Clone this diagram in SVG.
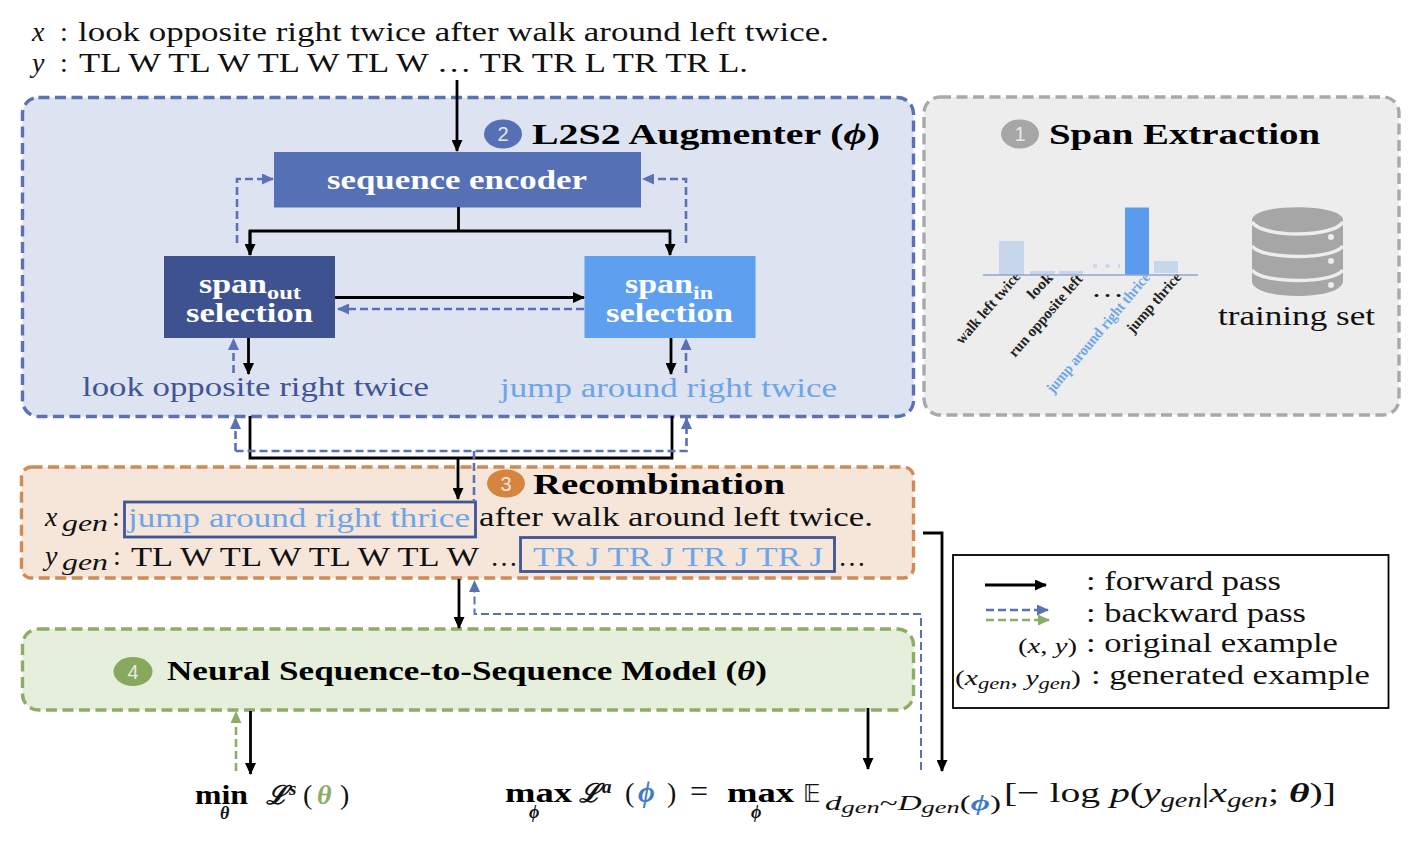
<svg xmlns="http://www.w3.org/2000/svg" width="1417" height="850" viewBox="0 0 1417 850">
<defs>
<marker id="ak" markerUnits="userSpaceOnUse" markerWidth="13" markerHeight="11" refX="11" refY="5.500" orient="auto"><path d="M0 0L12 5.500L0 11z" fill="#000"/></marker>
<marker id="ab" markerUnits="userSpaceOnUse" markerWidth="13" markerHeight="11" refX="11" refY="5.500" orient="auto"><path d="M0 0L12 5.500L0 11z" fill="#5a72b5"/></marker>
<marker id="ag" markerUnits="userSpaceOnUse" markerWidth="13" markerHeight="11" refX="11" refY="5.500" orient="auto"><path d="M0 0L12 5.500L0 11z" fill="#8bad65"/></marker>
</defs>
<style>
text{font-family:"Liberation Serif","DejaVu Serif",serif;fill:#111}
.t{font-size:28px}
.h{font-size:30px;font-weight:bold;fill:#000}
.w{font-size:27px;font-weight:bold;fill:#fff}
.n{font-family:"Liberation Sans",sans-serif;font-size:20px;fill:#e8e8e8;text-anchor:middle}
.i{font-style:italic}
.b{font-weight:bold;font-style:italic}
.s{font-size:15px;font-weight:bold;fill:#222}
.k{fill:none;stroke:#000;stroke-width:2.800}
.d{fill:none;stroke:#5a72b5;stroke-width:2.600;stroke-dasharray:8 4}
.g{fill:none;stroke:#8bad65;stroke-width:2.600;stroke-dasharray:8 4}
.bx{stroke-width:3.400;stroke-dasharray:11 5.500}
.hl{fill:none;stroke:#3f5595;stroke-width:2.800}
.ma{font-size:28px;font-weight:bold;fill:#000}
</style>

<g id="augmenter">
<rect x="22.500" y="97.500" width="891" height="319" rx="16" fill="#dee3f1" stroke="#5a72b5" class="bx"/>
<ellipse cx="503" cy="134" rx="19" ry="14.500" fill="#5670b5"/>
<text class="n" x="503" y="141">2</text>
<text class="h" x="532" y="144" textLength="348" lengthAdjust="spacingAndGlyphs">L2S2 Augmenter (<tspan class="b">ϕ</tspan>)</text>
</g>
<g id="extraction">
<rect x="924" y="97" width="475" height="318" rx="16" fill="#ededed" stroke="#a9a9a9" class="bx"/>
<ellipse cx="1020" cy="134" rx="19" ry="14.500" fill="#a6a6a6"/>
<text class="n" x="1020" y="141">1</text>
<text class="h" x="1049" y="144" textLength="271" lengthAdjust="spacingAndGlyphs">Span Extraction</text>
</g>
<g id="recombination">
<rect x="21.500" y="467" width="892" height="111" rx="10" fill="#f6e6da" stroke="#d08a52" class="bx"/>
<ellipse cx="506" cy="483.500" rx="19" ry="14" fill="#d5853f"/>
<text class="n" x="506" y="490.500">3</text>
<text class="h" x="533" y="494" textLength="252" lengthAdjust="spacingAndGlyphs">Recombination</text>
<text class="t i" x="45" y="526">x</text>
<text class="i" x="62" y="531" font-size="23" textLength="46" lengthAdjust="spacingAndGlyphs">gen</text>
<text class="t" x="112" y="526">:</text>
<rect class="hl" x="124.500" y="502" width="351" height="35"/>
<text class="t" x="128" y="527" style="fill:#6da5e8" textLength="342" lengthAdjust="spacingAndGlyphs">jump around right thrice</text>
<text class="t" x="479" y="526" textLength="394" lengthAdjust="spacingAndGlyphs">after walk around left twice.</text>
<text class="t i" x="45" y="565">y</text>
<text class="i" x="62" y="570" font-size="23" textLength="46" lengthAdjust="spacingAndGlyphs">gen</text>
<text class="t" x="113" y="565">:</text>
<text class="t" x="131" y="566" textLength="348" lengthAdjust="spacingAndGlyphs">TL W TL W TL W TL W</text>
<text class="t" x="490" y="566">…</text>
<rect class="hl" x="520.500" y="537.500" width="314" height="34"/>
<text class="t" x="533" y="566" style="fill:#6da5e8" textLength="290" lengthAdjust="spacingAndGlyphs">TR J TR J TR J TR J</text>
<text class="t" x="838" y="566">…</text>
</g>
<g id="seq2seq">
<rect x="22.500" y="629" width="891" height="81" rx="16" fill="#e6efdc" stroke="#8bad65" class="bx"/>
<ellipse cx="133" cy="671.500" rx="19.500" ry="14.500" fill="#86a95e"/>
<text class="n" x="133" y="678.500">4</text>
<text class="h" x="167" y="680" style="font-size:27px" textLength="600" lengthAdjust="spacingAndGlyphs">Neural Sequence-to-Sequence Model (<tspan class="b">θ</tspan>)</text>
</g>

<g id="sequence-encoder">
<rect x="274" y="152" width="367" height="55.500" fill="#5670b5"/>
<text class="w" x="327" y="189" textLength="260" lengthAdjust="spacingAndGlyphs">sequence encoder</text>
</g>
<g id="span-out">
<rect x="164" y="256" width="171" height="82" fill="#3e5290"/>
<text class="w" x="199" y="293" textLength="68" lengthAdjust="spacingAndGlyphs">span</text>
<text class="w" x="267" y="299" style="font-size:18px" textLength="34" lengthAdjust="spacingAndGlyphs">out</text>
<text class="w" x="186" y="322" textLength="127" lengthAdjust="spacingAndGlyphs">selection</text>
</g>
<g id="span-in">
<rect x="584.500" y="256" width="171" height="82" fill="#5f9fef"/>
<text class="w" x="625" y="293" textLength="68" lengthAdjust="spacingAndGlyphs">span</text>
<text class="w" x="693" y="299" style="font-size:18px" textLength="20" lengthAdjust="spacingAndGlyphs">in</text>
<text class="w" x="606" y="322" textLength="127" lengthAdjust="spacingAndGlyphs">selection</text>
</g>
<g id="span-labels">
<text class="t" x="82" y="396" style="fill:#3f5595" textLength="347" lengthAdjust="spacingAndGlyphs">look opposite right twice</text>
<text class="t" x="500" y="397" style="fill:#6da5e8" textLength="337" lengthAdjust="spacingAndGlyphs">jump around right twice</text>
</g>

<g id="chart">
<text class="s" transform="translate(962,345) rotate(-49)" textLength="90" lengthAdjust="spacingAndGlyphs">walk left twice</text>
<text class="s" transform="translate(1033,300) rotate(-46)" textLength="30" lengthAdjust="spacingAndGlyphs">look</text>
<text class="s" transform="translate(1015,358) rotate(-49)" textLength="104" lengthAdjust="spacingAndGlyphs">run opposite left</text>
<text class="s" transform="translate(1053,394) rotate(-50)" style="fill:#6da5e8" textLength="152" lengthAdjust="spacingAndGlyphs">jump around right thrice</text>
<text class="s" transform="translate(1133,334) rotate(-49)" textLength="75" lengthAdjust="spacingAndGlyphs">jump thrice</text>
<rect x="999" y="241" width="25" height="34" fill="#c8d6ec"/>
<rect x="1030" y="271" width="25" height="4" fill="#c8d6ec"/>
<rect x="1059" y="271" width="24" height="4" fill="#c8d6ec"/>
<rect x="1125" y="207.500" width="24" height="67.500" fill="#5a9bee"/>
<rect x="1154" y="261" width="24" height="12" fill="#c8d6ec"/>
<path d="M1093 266H1120" stroke="#c8d6ec" stroke-width="3.500" stroke-dasharray="4 8.500" fill="none"/>
<path d="M983 275H1198" stroke="#8ea6cf" stroke-width="1.500" fill="none"/>
<text x="1091" y="297" style="font-size:26px" textLength="33" lengthAdjust="spacingAndGlyphs">…</text>
</g>
<g id="training-set">
<path d="M1252 220C1252 203 1343 203 1343 220V281C1343 301 1252 301 1252 281z" fill="#a6a6a6"/>
<path d="M1252 222C1262 238 1333 238 1343 222" fill="none" stroke="#ededed" stroke-width="3.500"/>
<path d="M1252 246C1262 260 1333 260 1343 246" fill="none" stroke="#ededed" stroke-width="3.500"/>
<path d="M1252 270C1262 284 1333 284 1343 270" fill="none" stroke="#ededed" stroke-width="3.500"/>
<circle cx="1331" cy="237" r="3" fill="#ededed"/>
<circle cx="1331" cy="261" r="3" fill="#ededed"/>
<circle cx="1331" cy="285" r="3" fill="#ededed"/>
<text class="t" x="1218" y="325" textLength="157" lengthAdjust="spacingAndGlyphs">training set</text>
</g>

<g id="connectors">
<path class="k" d="M457 80V151" marker-end="url(#ak)"/>
<path class="k" d="M458.500 207V231"/>
<path class="k" d="M250 255V231H670V255" marker-end="url(#ak)"/>
<path class="k" d="M250 231V255" marker-end="url(#ak)"/>
<path class="d" d="M237 243V179H273" marker-end="url(#ab)"/>
<path class="d" d="M686 243V179H643" marker-end="url(#ab)"/>
<path class="k" d="M335 297.500H584" marker-end="url(#ak)"/>
<path class="d" d="M584 309H338" marker-end="url(#ab)"/>
<path class="k" d="M248.500 338V374" marker-end="url(#ak)"/>
<path class="d" d="M233.500 373V339" marker-end="url(#ab)"/>
<path class="k" d="M671 338V374" marker-end="url(#ak)"/>
<path class="d" d="M686 373V339" marker-end="url(#ab)"/>
<path class="k" d="M250 416V458H672V416"/>
<path class="d" d="M235.500 451V418" marker-end="url(#ab)"/>
<path class="d" d="M235.500 451H686.500V418" marker-end="url(#ab)"/>
<path class="d" d="M474 451V502"/>
<path class="k" d="M458 458V499" marker-end="url(#ak)"/>
<path class="k" d="M459 579V628" marker-end="url(#ak)"/>
<path class="d" style="stroke-width:2" d="M921 770V614H474.500V581" marker-end="url(#ab)"/>
<path class="k" d="M923 533H942V771" marker-end="url(#ak)"/>
<path class="k" d="M868 708V769" marker-end="url(#ak)"/>
<path class="g" d="M236 771V712" marker-end="url(#ag)"/>
<path class="k" d="M250.500 711V774" marker-end="url(#ak)"/>
</g>

<g id="legend">
<rect x="953" y="555" width="435.500" height="153" fill="#fff" stroke="#000" stroke-width="1.800"/>
<path class="k" d="M985 585H1046" marker-end="url(#ak)"/>
<path class="d" d="M986 610H1048" marker-end="url(#ab)"/>
<path class="g" d="M986 620H1049" marker-end="url(#ag)"/>
<text class="t" x="1086" y="590" textLength="195" lengthAdjust="spacingAndGlyphs">: forward pass</text>
<text class="t" x="1086" y="622" textLength="220" lengthAdjust="spacingAndGlyphs">: backward pass</text>
<text x="1018" y="653" font-size="21" textLength="59" lengthAdjust="spacingAndGlyphs">(<tspan class="i">x</tspan>, <tspan class="i">y</tspan>)</text>
<text class="t" x="1086" y="652" textLength="252" lengthAdjust="spacingAndGlyphs">: original example</text>
<text x="955" y="685" font-size="21" textLength="126" lengthAdjust="spacingAndGlyphs">(<tspan class="i">x<tspan font-size="16" dy="4">gen</tspan></tspan><tspan dy="-4">, </tspan><tspan class="i">y<tspan font-size="16" dy="4">gen</tspan></tspan><tspan dy="-4">)</tspan></text>
<text class="t" x="1091" y="684" textLength="279" lengthAdjust="spacingAndGlyphs">: generated example</text>
</g>

<g id="input">
<text class="t i" x="32" y="41">x</text>
<text class="t" x="60" y="41">:</text>
<text class="t" x="78" y="41" textLength="751" lengthAdjust="spacingAndGlyphs">look opposite right twice after walk around left twice.</text>
<text class="t i" x="32" y="72">y</text>
<text class="t" x="60" y="72">:</text>
<text class="t" x="79" y="72" textLength="669" lengthAdjust="spacingAndGlyphs">TL W TL W TL W TL W  …  TR TR L TR TR L.</text>
</g>

<g id="losses">
<text class="ma" x="195" y="804" textLength="53" lengthAdjust="spacingAndGlyphs">min</text>
<text class="b" x="220" y="819" font-size="18">θ</text>
<text class="b" x="266" y="804" font-size="26" style="font-family:'DejaVu Serif',serif">ℒ</text>
<text class="b" x="289" y="795" font-size="19">s</text>
<text x="303" y="804" font-size="28">(</text>
<text class="b" x="317" y="804" font-size="28" style="fill:#8bad65">θ</text>
<text x="340" y="804" font-size="28">)</text>

<text class="ma" x="505" y="802" textLength="67" lengthAdjust="spacingAndGlyphs">max</text>
<text class="b" x="529" y="818" font-size="18">ϕ</text>
<text class="b" x="579" y="802" font-size="26" style="font-family:'DejaVu Serif',serif">ℒ</text>
<text class="b" x="602" y="793" font-size="19">a</text>
<text x="625" y="802" font-size="28">(</text>
<text class="b" x="638" y="802" font-size="29" style="fill:#3f7cc4">ϕ</text>
<text x="667" y="802" font-size="28">)</text>
<text x="690" y="802" font-size="32">=</text>
<text class="ma" x="727" y="802" textLength="67" lengthAdjust="spacingAndGlyphs">max</text>
<text class="b" x="751" y="818" font-size="18">ϕ</text>
<text x="803" y="802" font-size="24" style="font-family:'DejaVu Sans',sans-serif">𝔼</text>
<text class="i" x="825" y="810" font-size="20" textLength="176" lengthAdjust="spacingAndGlyphs">d<tspan font-size="16" dy="3">gen</tspan><tspan font-style="normal" dy="-3">~</tspan>D<tspan font-size="16" dy="3">gen</tspan><tspan font-style="normal" dy="-3">(</tspan><tspan class="b" style="fill:#3f7cc4">ϕ</tspan><tspan font-style="normal">)</tspan></text>
<text x="1004" y="802" font-size="28" textLength="332" lengthAdjust="spacingAndGlyphs">[− log <tspan class="i">p</tspan>(<tspan class="i">y<tspan font-size="20" dy="5">gen</tspan></tspan><tspan dy="-5">|</tspan><tspan class="i">x<tspan font-size="20" dy="5">gen</tspan></tspan><tspan dy="-5">; </tspan><tspan class="b">θ</tspan>)]</text>
</g>
</svg>
